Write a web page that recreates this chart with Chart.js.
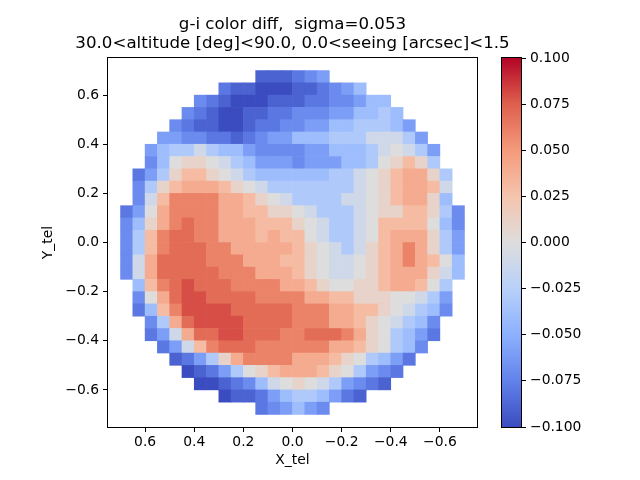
<!DOCTYPE html>
<html>
<head>
<meta charset="utf-8">
<script src="https://cdn.jsdelivr.net/npm/chart.js@4.4.1/dist/chart.umd.min.js"></script>
<style>
  html, body { margin: 0; padding: 0; background: #fff; }
  #wrap { position: relative; width: 640px; height: 480px; }
  #wrap canvas { position: absolute; left: 0; top: 0; }
</style>
</head>
<body>
<div id="wrap">
  <canvas id="mapChart" width="640" height="480"></canvas>
  <canvas id="cbarChart" width="640" height="480"></canvas>
</div>
<script>
'use strict';

// Bin centres of the focal plane grid, as drawn: left to right (X_tel falls) and top to bottom
const colX = [0.675, 0.625, 0.575, 0.525, 0.475, 0.425, 0.375, 0.325, 0.275, 0.225, 0.175, 0.125, 0.075, 0.025,
    -0.025, -0.075, -0.125, -0.175, -0.225, -0.275, -0.325, -0.375, -0.425, -0.475, -0.525, -0.575, -0.625, -0.675];
const rowY = [0.675, 0.625, 0.575, 0.525, 0.475, 0.425, 0.375, 0.325, 0.275, 0.225, 0.175, 0.125, 0.075, 0.025,
    -0.025, -0.075, -0.125, -0.175, -0.225, -0.275, -0.325, -0.375, -0.425, -0.475, -0.525, -0.575, -0.625, -0.675];

// g-i colour difference per bin, in units of 0.01.
// Each row only holds the bins that fall on the focal plane, centred on the row.
const diffRows = [
    [-9, -9, -9, -8, -7, -6],
    [-8, -9, -9, -10, -10, -10, -9, -9, -8, -7, -6, -4],
    [-7, -8, -9, -10, -10, -10, -9, -9, -9, -8, -8, -7, -7, -6, -4, -4],
    [-7, -8, -9, -10, -10, -9, -9, -8, -8, -7, -7, -7, -6, -6, -4, -4, -3, -4],
    [-7, -8, -9, -9, -10, -10, -9, -8, -8, -7, -7, -6, -6, -4, -4, -3, -3, -3, -4, -6],
    [-6, -6, -7, -7, -8, -8, -9, -8, -7, -6, -6, -4, -4, -4, -3, -3, -3, -1, -1, -1, -3, -6],
    [-6, -4, -3, -3, -1, -3, -4, -4, -6, -7, -7, -7, -7, -6, -6, -4, -4, -4, -3, -1, 0, -1, -3, -6],
    [-7, -4, 0, 1, 1, 0, -1, -3, -4, -6, -6, -6, -7, -6, -6, -6, -4, -4, -3, 0, 1, 3, 1, -3],
    [-8, -6, -3, 1, 3, 3, 1, 0, -1, -3, -4, -4, -4, -4, -4, -4, -3, -3, -1, 0, 1, 3, 4, 4, 1, -3],
    [-7, -3, 1, 3, 4, 4, 4, 3, 1, 0, -1, -3, -3, -3, -3, -3, -3, -3, -1, 0, 1, 3, 4, 4, 3, -1],
    [-7, -1, 3, 6, 6, 6, 6, 4, 4, 3, 1, 0, -1, -3, -3, -3, -3, -1, -1, 0, 1, 3, 4, 4, 1, -4],
    [-8, -6, 0, 4, 6, 6, 6, 6, 4, 4, 3, 3, 1, 1, 0, -1, -3, -3, -3, -1, 0, 1, 1, 3, 3, 1, -3, -7],
    [-7, -4, 1, 4, 6, 7, 6, 6, 4, 4, 4, 3, 3, 3, 1, 0, -1, -3, -3, -1, 0, 3, 3, 3, 3, 0, -4, -7],
    [-7, -3, 3, 6, 7, 7, 6, 6, 4, 4, 4, 3, 4, 3, 3, 0, -1, -3, -3, -1, 0, 3, 4, 4, 4, 1, -3, -6],
    [-7, -3, 3, 6, 7, 7, 7, 6, 6, 4, 4, 4, 4, 4, 3, 1, 0, -1, -3, -1, 1, 3, 4, 6, 4, 1, -3, -6],
    [-7, -1, 4, 7, 7, 7, 7, 6, 6, 6, 4, 4, 4, 3, 3, 1, 0, -1, -1, 0, 1, 3, 4, 6, 4, 3, 0, -4],
    [-7, -1, 4, 7, 7, 7, 7, 7, 6, 6, 6, 4, 4, 4, 3, 1, 0, -1, -1, 0, 1, 3, 4, 4, 4, 1, -1, -4],
    [-4, 3, 6, 7, 8, 7, 7, 7, 6, 6, 6, 6, 4, 4, 3, 1, 0, 0, 1, 1, 3, 4, 4, 3, 0, -3],
    [-7, 0, 4, 7, 8, 8, 7, 7, 7, 7, 6, 6, 6, 6, 4, 4, 3, 3, 1, 1, 1, 0, 0, -1, -3, -6],
    [-8, -4, 3, 6, 8, 8, 8, 8, 7, 7, 7, 7, 7, 6, 6, 6, 4, 4, 3, 3, 1, 0, -1, -3, -4, -7],
    [-7, -3, 4, 7, 8, 8, 8, 8, 7, 7, 7, 7, 6, 6, 6, 4, 4, 3, 1, 0, -1, -3, -4, -7],
    [-8, -6, -1, 4, 7, 7, 8, 8, 7, 7, 7, 6, 6, 7, 7, 7, 6, 4, 1, 0, -3, -4, -6, -8],
    [-8, -6, -1, 3, 6, 7, 7, 7, 6, 6, 6, 6, 6, 6, 4, 4, 3, 1, 0, -3, -4, -7],
    [-9, -8, -6, -3, 1, 4, 6, 6, 6, 6, 4, 4, 4, 3, 1, 0, -3, -4, -6, -8],
    [-10, -9, -8, -6, -3, 0, 1, 3, 4, 4, 4, 3, 1, 0, -3, -6, -7, -8],
    [-10, -10, -9, -8, -7, -4, -1, 0, 1, 0, -1, -3, -6, -7, -8, -9],
    [-10, -9, -9, -8, -6, -4, -3, -3, -4, -6, -8, -9],
    [-8, -7, -6, -4, -6, -7]
];
const diffUnit = 0.01;

const xTicks = [0.6, 0.4, 0.2, 0.0, -0.2, -0.4, -0.6];
const yTicks = [-0.6, -0.4, -0.2, 0.0, 0.2, 0.4, 0.6];
const cbarRange = [-0.1, 0.1];
const cbarTicks = [-0.1, -0.075, -0.05, -0.025, 0.0, 0.025, 0.05, 0.075, 0.1];

const titleLines = ['g-i color diff,  sigma=0.053', '30.0<altitude [deg]<90.0, 0.0<seeing [arcsec]<1.5'];

// coolwarm colour map, evenly spaced stops
const coolwarm = [
    [59, 76, 192], [98, 130, 234], [141, 176, 254], [184, 208, 249], [221, 221, 221],
    [245, 196, 173], [244, 154, 123], [222, 96, 77], [180, 4, 38]
];

function cmap(v) {
    let t = (v - cbarRange[0]) / (cbarRange[1] - cbarRange[0]);
    t = Math.min(1, Math.max(0, t));
    const p = t * (coolwarm.length - 1);
    const i = Math.min(Math.floor(p), coolwarm.length - 2);
    const f = p - i;
    const c = coolwarm[i].map((a, k) => Math.round(a + (coolwarm[i + 1][k] - a) * f));
    return 'rgb(' + c.join(',') + ')';
}

const minus = v => (v < 0 ? '\u2212' : '');
const fmt1 = v => minus(v) + Math.abs(v).toFixed(1);
const fmt3 = v => minus(v) + Math.abs(v).toFixed(3);

Chart.defaults.font.family = "'DejaVu Sans', sans-serif";
Chart.defaults.font.size = 13.89;
Chart.defaults.color = '#000';

const tickFont = { size: 13.89 };

// black box round the plotting area
const frame = {
    id: 'frame',
    afterDraw(chart) {
        const { ctx, chartArea: a } = chart;
        ctx.save();
        ctx.strokeStyle = '#000';
        ctx.lineWidth = 1;
        ctx.strokeRect(Math.round(a.left) - 0.5, Math.round(a.top) - 0.5,
            Math.round(a.right - a.left) + 1, Math.round(a.bottom - a.top) + 1);
        ctx.restore();
    }
};

const points = [];
diffRows.forEach((row, i) => {
    const start = (colX.length - row.length) / 2;
    row.forEach((d, j) => {
        points.push({ x: colX[start + j], y: rowY[i], v: d * diffUnit });
    });
});

// Map
// --------------------------------------------------------------------
new Chart(document.getElementById('mapChart'), {
    type: 'scatter',
    data: {
        datasets: [{
            data: points,
            pointStyle: 'rect',
            pointBorderWidth: 0,
            pointRadius: ctx => {
                const s = ctx.chart.scales.x;
                const cell = Math.abs(s.getPixelForValue(colX[0]) - s.getPixelForValue(colX[1]));
                return (cell + 0.6) / Math.SQRT2;
            },
            pointBackgroundColor: ctx => (ctx.raw ? cmap(ctx.raw.v) : 'transparent')
        }]
    },
    options: {
        responsive: false,
        animation: false,
        events: [],
        layout: { padding: { left: 0, right: 55, top: 0, bottom: 0 } },
        plugins: {
            legend: { display: false },
            tooltip: { enabled: false },
            title: {
                display: true,
                text: titleLines,
                color: '#000',
                font: { size: 16.67, weight: 'normal', lineHeight: 1.164 },
                padding: { top: 14.5, bottom: 4.7 }
            }
        },
        scales: {
            x: {
                type: 'linear',
                min: -0.751,
                max: 0.751,
                reverse: true,
                afterBuildTicks: s => { s.ticks = xTicks.map(value => ({ value })); },
                afterFit: s => { s.height = 53; },
                grid: { drawOnChartArea: false, drawTicks: true, tickLength: 5, color: '#000', lineWidth: 1 },
                border: { display: false },
                ticks: { font: tickFont, padding: 2, maxRotation: 0, autoSkip: false, callback: fmt1 },
                title: { display: true, text: 'X_tel', font: tickFont, padding: { top: 0, bottom: 11.5 } }
            },
            y: {
                type: 'linear',
                min: -0.751,
                max: 0.751,
                afterBuildTicks: s => { s.ticks = yTicks.map(value => ({ value })); },
                afterFit: s => { s.width = 108; },
                grid: { drawOnChartArea: false, drawTicks: true, tickLength: 5, color: '#000', lineWidth: 1 },
                border: { display: false },
                ticks: { font: tickFont, padding: 4, autoSkip: false, callback: fmt1 },
                title: { display: true, text: 'Y_tel', font: tickFont, padding: { top: 40, bottom: 0 } }
            },
            pad: {
                type: 'linear',
                position: 'right',
                grid: { display: false },
                border: { display: false },
                ticks: { display: false },
                afterFit: s => { s.width = 108; }
            }
        }
    },
    plugins: [frame]
});

// Colour bar
// --------------------------------------------------------------------
new Chart(document.getElementById('cbarChart'), {
    type: 'bar',
    data: {
        labels: ['g-i'],
        datasets: [{
            data: [cbarRange],
            borderWidth: 0,
            barPercentage: 1,
            categoryPercentage: 1,
            backgroundColor: ctx => {
                const chart = ctx.chart;
                const a = chart.chartArea;
                if (!a) return null;
                const g = chart.ctx.createLinearGradient(0, a.bottom, 0, a.top);
                coolwarm.forEach((c, i) => g.addColorStop(i / (coolwarm.length - 1), 'rgb(' + c.join(',') + ')'));
                return g;
            }
        }]
    },
    options: {
        responsive: false,
        animation: false,
        events: [],
        layout: { padding: { left: 502, top: 58, bottom: 53, right: 59 } },
        plugins: {
            legend: { display: false },
            tooltip: { enabled: false }
        },
        scales: {
            x: { display: false },
            y: {
                position: 'right',
                min: cbarRange[0],
                max: cbarRange[1],
                afterBuildTicks: s => { s.ticks = cbarTicks.map(value => ({ value })); },
                afterFit: s => { s.width = 60; },
                grid: { drawOnChartArea: false, drawTicks: true, tickLength: 5, color: '#000', lineWidth: 1 },
                border: { display: false },
                ticks: { font: tickFont, padding: 4, autoSkip: false, callback: fmt3 }
            }
        }
    },
    plugins: [frame]
});
</script>
</body>
</html>
